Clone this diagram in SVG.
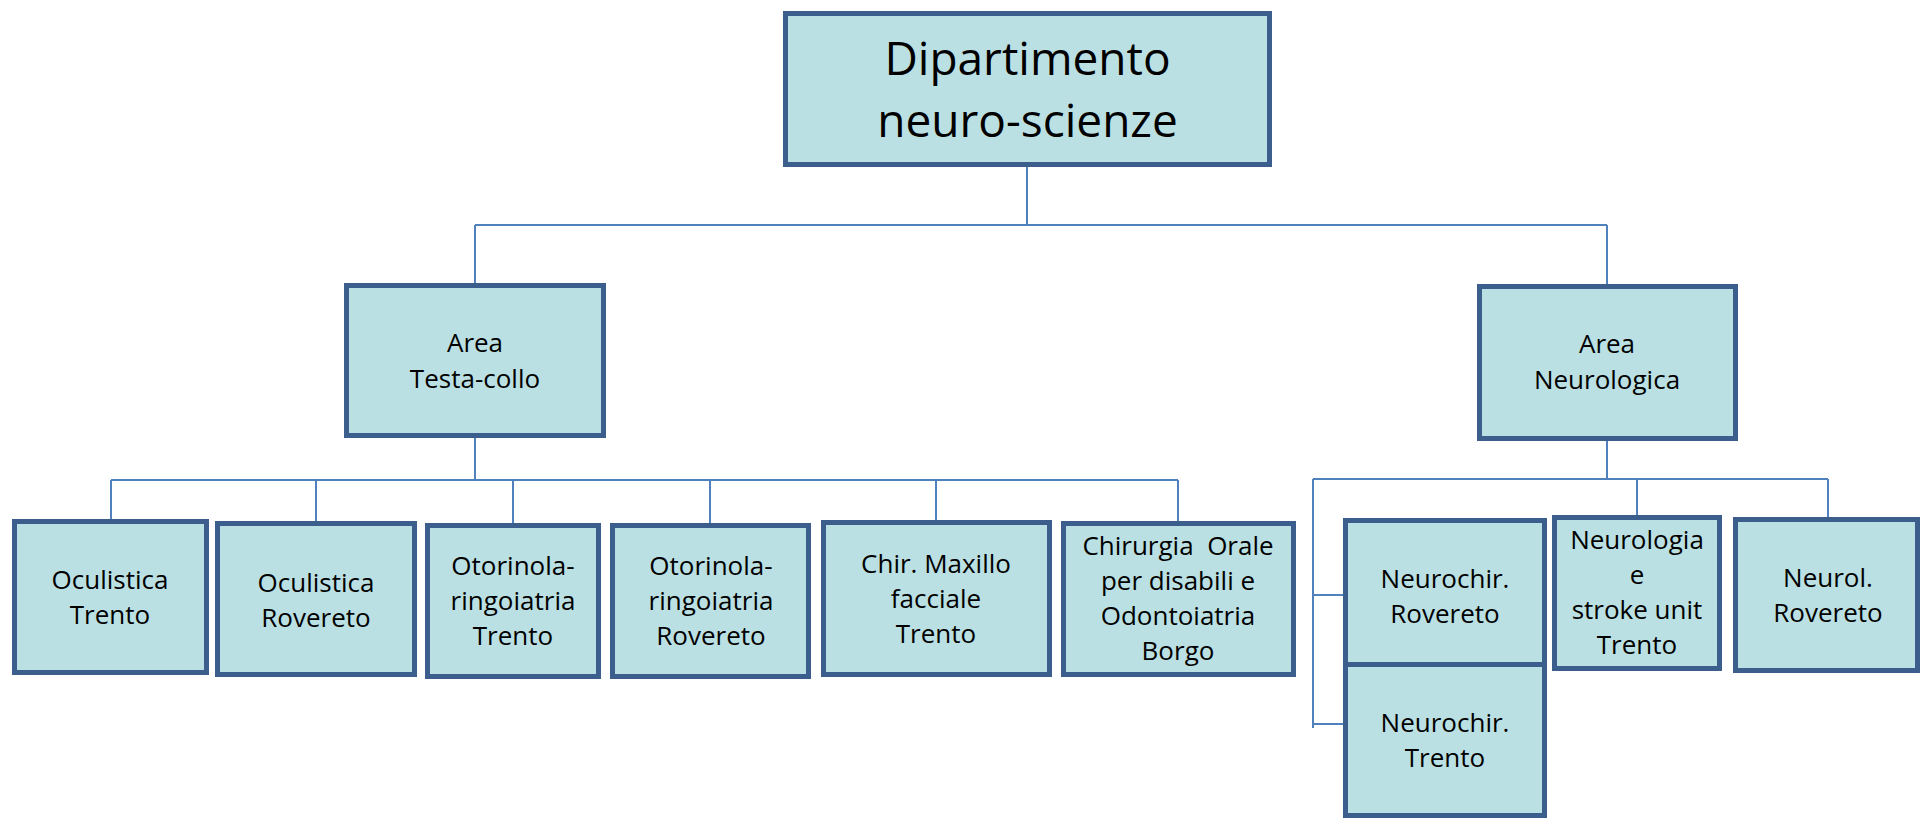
<svg xmlns="http://www.w3.org/2000/svg" width="1922" height="821" viewBox="0 0 1922 821">
<style>
.box{fill:#BBE0E3;stroke:#3B5E8C;stroke-width:5}
.t{font-family:"Open Sans","Liberation Sans",sans-serif;font-size:26px;fill:#000;text-anchor:middle}
.big{font-size:46px}
.c{fill:none;stroke:#4F81BD;stroke-width:2}
</style>
<rect width="1922" height="821" fill="#FFFFFF"/>
<g id="connectors" class="c">
<path d="M1027,167 V225 M475,225 H1607 M475,225 V283 M1607,225 V284"/>
<path d="M475,438 V480 M111,480 H1178 M111,480 V519 M316,480 V521 M513,480 V523 M710,480 V523 M936,480 V520 M1178,480 V521"/>
<path d="M1607,441 V479 M1313,479 H1828 M1637,479 V515 M1828,479 V517 M1313,479 V728 M1313,595 H1343 M1313,724 H1343"/>
</g>
<g id="dipartimento">
<rect class="box" x="785.5" y="13.5" width="484" height="151"/>
<text class="t big" x="1027.5" y="75">Dipartimento</text>
<text class="t big" x="1027.5" y="137">neuro-scienze</text>
</g>
<g id="area-testa-collo">
<rect class="box" x="346.5" y="285.5" width="257" height="150"/>
<text class="t" x="475" y="352">Area</text>
<text class="t" x="475" y="388">Testa-collo</text>
</g>
<g id="area-neurologica">
<rect class="box" x="1479.5" y="286.5" width="256" height="152"/>
<text class="t" x="1607" y="353">Area</text>
<text class="t" x="1607" y="389">Neurologica</text>
</g>
<g id="oculistica-trento">
<rect class="box" x="14.5" y="521.5" width="192" height="151"/>
<text class="t" x="110" y="589">Oculistica</text>
<text class="t" x="110" y="624">Trento</text>
</g>
<g id="oculistica-rovereto">
<rect class="box" x="217.5" y="523.5" width="197" height="151"/>
<text class="t" x="316" y="592">Oculistica</text>
<text class="t" x="316" y="627">Rovereto</text>
</g>
<g id="otorino-trento">
<rect class="box" x="427.5" y="525.5" width="171" height="151"/>
<text class="t" x="513" y="575">Otorinola-</text>
<text class="t" x="513" y="610">ringoiatria</text>
<text class="t" x="513" y="645">Trento</text>
</g>
<g id="otorino-rovereto">
<rect class="box" x="612.5" y="525.5" width="196" height="151"/>
<text class="t" x="711" y="575">Otorinola-</text>
<text class="t" x="711" y="610">ringoiatria</text>
<text class="t" x="711" y="645">Rovereto</text>
</g>
<g id="chir-maxillo">
<rect class="box" x="823.5" y="522.5" width="226" height="152"/>
<text class="t" x="936" y="573">Chir. Maxillo</text>
<text class="t" x="936" y="608">facciale</text>
<text class="t" x="936" y="643">Trento</text>
</g>
<g id="chirurgia-orale">
<rect class="box" x="1063.5" y="523.5" width="230" height="151"/>
<text class="t" x="1178" y="555" style="white-space:pre" xml:space="preserve">Chirurgia  Orale</text>
<text class="t" x="1178" y="590">per disabili e</text>
<text class="t" x="1178" y="625">Odontoiatria</text>
<text class="t" x="1178" y="660">Borgo</text>
</g>
<g id="neurochir-rovereto">
<rect class="box" x="1345.5" y="520.5" width="199" height="144"/>
<text class="t" x="1445" y="588">Neurochir.</text>
<text class="t" x="1445" y="623">Rovereto</text>
</g>
<g id="neurochir-trento">
<rect class="box" x="1345.5" y="664.5" width="199" height="151"/>
<text class="t" x="1445" y="732">Neurochir.</text>
<text class="t" x="1445" y="767">Trento</text>
</g>
<g id="neurologia-stroke">
<rect class="box" x="1554.5" y="517.5" width="165" height="151"/>
<text class="t" x="1637" y="549">Neurologia</text>
<text class="t" x="1637" y="584">e</text>
<text class="t" x="1637" y="619">stroke unit</text>
<text class="t" x="1637" y="654">Trento</text>
</g>
<g id="neurol-rovereto">
<rect class="box" x="1735.5" y="519.5" width="182" height="151"/>
<text class="t" x="1828" y="587">Neurol.</text>
<text class="t" x="1828" y="622">Rovereto</text>
</g>
</svg>
